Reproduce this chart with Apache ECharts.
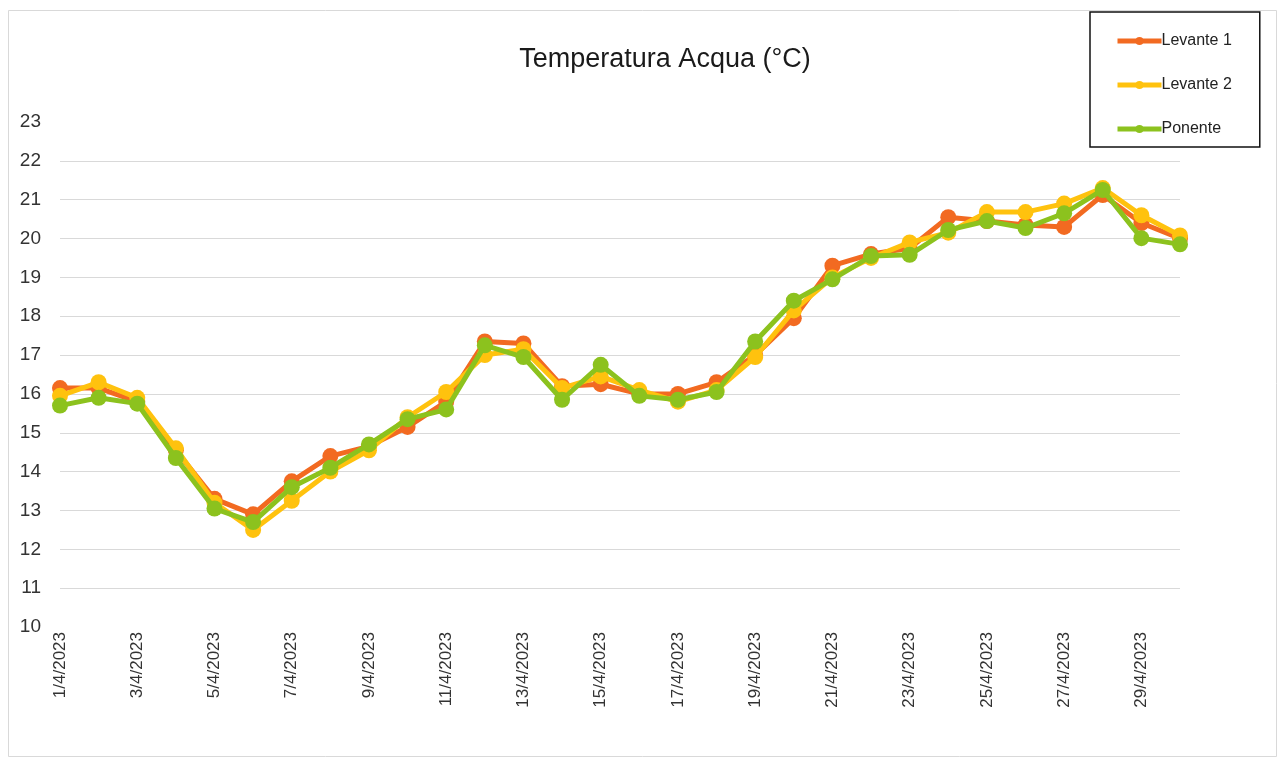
<!DOCTYPE html>
<html>
<head>
<meta charset="utf-8">
<script src="https://cdn.jsdelivr.net/npm/echarts@6/dist/echarts.min.js"></script>
<style>
html,body{margin:0;padding:0;background:#fff;}
#chart{width:1281px;height:760px;}
</style>
</head>
<body>
<div id="chart"></div>
<script>
const categories = [];
for (let d = 1; d <= 30; d++) categories.push(d + '/4/2023');

const levante1 = [16.15,16.15,15.8,14.55,13.3,12.9,13.75,14.4,14.65,15.15,15.8,17.35,17.3,16.2,16.25,16.0,16.0,16.3,17.0,17.95,19.3,19.6,19.75,20.55,20.45,20.35,20.3,21.12,20.4,20.0];
const levante2 = [15.95,16.3,15.9,14.6,13.2,12.5,13.25,14.0,14.55,15.4,16.05,17.0,17.15,16.15,16.45,16.1,15.8,16.1,16.95,18.15,19.0,19.5,19.9,20.15,20.68,20.68,20.9,21.3,20.6,20.08];
const ponente = [15.7,15.9,15.75,14.35,13.05,12.7,13.6,14.1,14.7,15.35,15.6,17.25,16.95,15.85,16.75,15.95,15.85,16.05,17.35,18.4,18.95,19.55,19.58,20.22,20.45,20.27,20.65,21.25,20.01,19.85];

const seriesNames = ['Levante 1','Levante 2','Ponente'];
const colors = ['#F26A21','#FFC20E','#8CC21E'];
const allData = [levante1, levante2, ponente];

const FONT = 'Liberation Sans, Arial, sans-serif';
const chart = echarts.init(document.getElementById('chart'));
chart.setOption({
  animation: false,
  backgroundColor: '#fff',
  title: {
    text: 'Temperatura Acqua (°C)',
    left: 660, top: 41, textAlign: 'center',
    textStyle: {fontFamily: FONT, fontSize: 27, fontWeight: 'normal', color: '#1a1a1a'}
  },
  graphic: [{
    type: 'rect', silent: true, z: -1,
    shape: {x: 8.5, y: 10.5, width: 1268, height: 746},
    style: {fill: 'none', stroke: '#d9d9d9', lineWidth: 1}
  }],
  legend: {
    orient: 'vertical',
    left: 1090, top: 12,
    padding: [21, 28, 10, 25],
    borderColor: '#111', borderWidth: 1.5,
    itemWidth: 44, itemHeight: 10,
    itemGap: 28,
    lineStyle: {width: 5},
    textStyle: {fontFamily: FONT, fontSize: 16, color: '#222', padding: [0,0,0,-5]},
    data: seriesNames
  },
  grid: {left: 60, right: 101, top: 122, bottom: 133},
  xAxis: {
    type: 'category',
    boundaryGap: false,
    data: categories,
    axisLine: {show: false},
    axisTick: {show: false},
    axisLabel: {
      rotate: 90, interval: 1, margin: 5,
      fontFamily: FONT, fontSize: 17, color: '#333'
    },
    splitLine: {show: false}
  },
  yAxis: {
    type: 'value', min: 10, max: 23, interval: 1,
    axisLine: {show: false}, axisTick: {show: false},
    axisLabel: {margin: 19, fontFamily: FONT, fontSize: 19, color: '#333'},
    splitLine: {show: true, showMinLine: false, showMaxLine: false, lineStyle: {color: '#d9d9d9', width: 1}}
  },
  series: allData.map((d, i) => ({
    name: seriesNames[i],
    type: 'line',
    data: d,
    symbol: 'circle',
    symbolSize: 16,
    lineStyle: {width: 5, color: colors[i]},
    itemStyle: {color: colors[i]},
    z: 2 + i
  }))
});
</script>
</body>
</html>
